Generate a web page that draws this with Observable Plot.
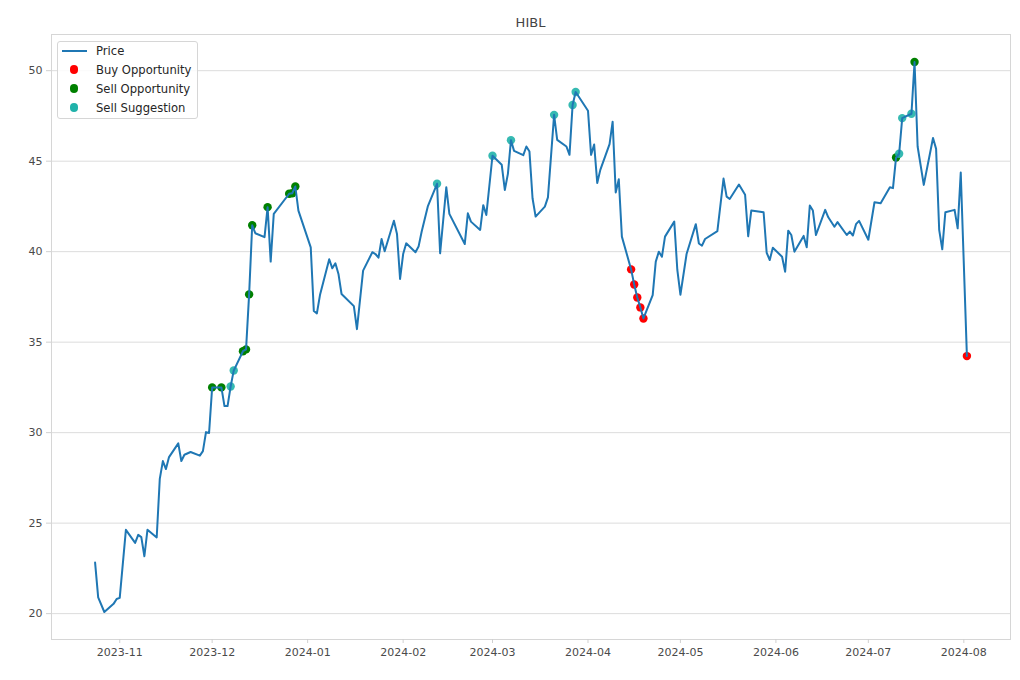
<!DOCTYPE html>
<html>
<head>
<meta charset="utf-8">
<script src="https://cdn.jsdelivr.net/npm/d3@7"></script>
<script src="https://cdn.jsdelivr.net/npm/@observablehq/plot@0.6"></script>
<style>
  body { margin: 0; background: #fff; }
  #wrap { position: relative; width: 1020px; height: 680px; font-family: "DejaVu Sans", sans-serif; }
  #title { position: absolute; left: 51px; width: 959px; top: 14.5px; line-height: 16px; text-align: center; font-size: 13px; color: #444; }
  #legend { position: absolute; left: 57px; top: 40.5px; width: 140.5px; height: 78px; border: 1px solid #d6d6d6; border-radius: 3px; background: rgba(255,255,255,0.85); box-sizing: border-box; font-size: 11.6px; color: #262626; }
  .row { position: absolute; left: 0; height: 16px; line-height: 16px; width: 100%; }
  .lab { position: absolute; left: 38px; top: 0; white-space: nowrap; }
  .sw-line { position: absolute; left: 3.5px; width: 25px; height: 2px; top: 7px; }
  .sw-dot { position: absolute; left: 11.5px; width: 8.4px; height: 8.4px; top: 3.8px; border-radius: 50%; }
</style>
</head>
<body>
<div id="wrap">
  <div id="chart"></div>
  <div id="title">HIBL</div>
  <div id="legend"></div>
</div>
<script>
const dates = [
"2023-10-24","2023-10-25","2023-10-27","2023-10-30","2023-10-31","2023-11-01","2023-11-03","2023-11-06","2023-11-07","2023-11-08",
"2023-11-09","2023-11-10","2023-11-13","2023-11-14","2023-11-15","2023-11-16","2023-11-17","2023-11-20","2023-11-21","2023-11-22",
"2023-11-24","2023-11-27","2023-11-28","2023-11-29","2023-11-30","2023-12-01","2023-12-04","2023-12-05","2023-12-06","2023-12-07",
"2023-12-08","2023-12-11","2023-12-12","2023-12-13","2023-12-14","2023-12-15","2023-12-18","2023-12-19","2023-12-20","2023-12-21",
"2023-12-26","2023-12-27","2023-12-28","2023-12-29","2024-01-02","2024-01-03","2024-01-04","2024-01-05","2024-01-08","2024-01-09",
"2024-01-10","2024-01-11","2024-01-12","2024-01-16","2024-01-17","2024-01-19","2024-01-22","2024-01-23","2024-01-24","2024-01-25",
"2024-01-26","2024-01-29","2024-01-30","2024-01-31","2024-02-01","2024-02-02","2024-02-05","2024-02-06","2024-02-07","2024-02-09",
"2024-02-12","2024-02-13","2024-02-15","2024-02-16","2024-02-21","2024-02-22","2024-02-23","2024-02-26","2024-02-27","2024-02-28",
"2024-03-01","2024-03-04","2024-03-05","2024-03-06","2024-03-07","2024-03-08","2024-03-11","2024-03-12","2024-03-13","2024-03-14",
"2024-03-15","2024-03-18","2024-03-19","2024-03-21","2024-03-22","2024-03-25","2024-03-26","2024-03-27","2024-03-28","2024-04-01",
"2024-04-02","2024-04-03","2024-04-04","2024-04-05","2024-04-08","2024-04-09","2024-04-10","2024-04-11","2024-04-12","2024-04-15",
"2024-04-16","2024-04-17","2024-04-18","2024-04-19","2024-04-22","2024-04-23","2024-04-24","2024-04-25","2024-04-26","2024-04-29",
"2024-04-30","2024-05-01","2024-05-03","2024-05-06","2024-05-07","2024-05-08","2024-05-09","2024-05-13","2024-05-15","2024-05-16",
"2024-05-17","2024-05-20","2024-05-22","2024-05-23","2024-05-24","2024-05-28","2024-05-29","2024-05-30","2024-05-31","2024-06-03",
"2024-06-04","2024-06-05","2024-06-06","2024-06-07","2024-06-10","2024-06-11","2024-06-12","2024-06-13","2024-06-14","2024-06-17",
"2024-06-18","2024-06-20","2024-06-21","2024-06-24","2024-06-25","2024-06-26","2024-06-27","2024-06-28","2024-07-01","2024-07-03",
"2024-07-05","2024-07-08","2024-07-09","2024-07-10","2024-07-11","2024-07-12","2024-07-15","2024-07-16","2024-07-17","2024-07-19",
"2024-07-22","2024-07-23","2024-07-24","2024-07-25","2024-07-26","2024-07-29","2024-07-30","2024-07-31","2024-08-02"
];
const prices = [
22.82,20.90,20.09,20.54,20.81,20.87,24.63,23.91,24.35,24.23,
23.17,24.63,24.21,27.45,28.43,27.99,28.65,29.41,28.43,28.78,
28.93,28.73,28.98,30.03,29.98,32.50,32.50,31.47,31.47,32.55,
33.43,34.50,34.60,37.64,41.46,41.02,40.80,42.46,39.45,42.09,
43.20,43.23,43.60,42.27,40.24,36.72,36.59,37.60,39.58,39.08,
39.36,38.77,37.66,36.99,35.72,38.95,39.97,39.87,39.67,40.70,
40.02,41.71,40.98,38.49,39.87,40.46,39.97,40.28,41.10,42.50,
43.75,39.91,43.56,42.09,40.42,42.12,41.66,41.20,42.57,42.03,
45.30,44.80,43.41,44.30,46.16,45.57,45.33,45.81,45.53,42.95,
41.94,42.49,43.00,47.56,46.18,45.81,45.35,48.10,48.82,47.79,
45.35,45.92,43.80,44.52,45.94,47.18,43.27,44.00,40.83,39.02,
38.19,37.47,36.92,36.31,37.60,39.45,40.00,39.72,40.83,41.66,
38.99,37.62,39.87,41.52,40.45,40.33,40.70,41.13,44.04,43.04,
42.91,43.71,43.14,40.85,42.27,42.18,39.94,39.54,40.22,39.72,
38.89,41.16,40.92,40.00,40.87,40.24,42.55,42.27,40.92,42.31,
41.90,41.38,41.63,40.92,41.11,40.89,41.52,41.70,40.66,42.73,
42.68,43.56,43.51,45.20,45.41,47.38,47.62,50.48,45.81,43.69,
46.28,45.68,41.20,40.13,42.18,42.31,41.29,44.37,34.23
];
const buyDates = ["2024-04-15","2024-04-16","2024-04-17","2024-04-18","2024-04-19","2024-08-02"];
const sellOppDates = ["2023-12-01","2023-12-04","2023-12-11","2023-12-12","2023-12-13","2023-12-14","2023-12-19","2023-12-26","2023-12-27","2023-12-28","2024-07-10","2024-07-16"];
const sellSuggDates = ["2023-12-07","2023-12-08","2024-02-12","2024-03-01","2024-03-07","2024-03-21","2024-03-27","2024-03-28","2024-07-11","2024-07-12","2024-07-15"];
const yTicks = [20, 25, 30, 35, 40, 45, 50];
const xTickLabels = ["2023-11","2023-12","2024-01","2024-02","2024-03","2024-04","2024-05","2024-06","2024-07","2024-08"];
const legendItems = [
  {label: "Price", kind: "line", color: "#1f77b4"},
  {label: "Buy Opportunity", kind: "dot", color: "red"},
  {label: "Sell Opportunity", kind: "dot", color: "green"},
  {label: "Sell Suggestion", kind: "dot", color: "#20b2aa"}
];

const data = dates.map((d, i) => ({date: new Date(d), price: prices[i]}));
const byDate = new Map(dates.map((d, i) => [d, prices[i]]));
const pick = arr => arr.map(d => ({date: new Date(d), price: byDate.get(d)}));
const buy = pick(buyDates), sellOpp = pick(sellOppDates), sellSugg = pick(sellSuggDates);

const xe = d3.extent(data, d => d.date), xs = xe[1] - xe[0];
const ye = d3.extent(prices), ys = ye[1] - ye[0];
const xTicks = xTickLabels.map(s => new Date(s + "-01"));

const chart = Plot.plot({
  width: 1020, height: 680,
  marginTop: 34, marginLeft: 51, marginRight: 10, marginBottom: 41,
  style: {fontFamily: "DejaVu Sans, sans-serif", fontSize: "11px", background: "white", overflow: "visible"},
  x: {type: "utc", domain: [new Date(+xe[0] - 0.05 * xs), new Date(+xe[1] + 0.05 * xs)]},
  y: {domain: [ye[0] - 0.05 * ys, ye[1] + 0.05 * ys]},
  marks: [
    Plot.gridY(yTicks, {stroke: "#dcdcdc", strokeOpacity: 1, strokeWidth: 1}),
    Plot.frame({stroke: "#d6d6d6"}),
    Plot.axisY(yTicks, {tickSize: 5, tickPadding: 4, stroke: "#d0d0d0", fill: "#4a4a4a", label: null}),
    Plot.axisX(xTicks, {tickSize: 4, tickPadding: 5, stroke: "#d0d0d0", fill: "#4a4a4a", label: null, tickFormat: d3.utcFormat("%Y-%m")}),
    Plot.dot(buy, {x: "date", y: "price", r: 4.2, fill: "red"}),
    Plot.dot(sellOpp, {x: "date", y: "price", r: 4.2, fill: "green"}),
    Plot.dot(sellSugg, {x: "date", y: "price", r: 4.2, fill: "#20b2aa", fillOpacity: 0.9}),
    Plot.line(data, {x: "date", y: "price", stroke: "#1f77b4", strokeWidth: 2})
  ]
});
document.getElementById("chart").appendChild(chart);

const leg = document.getElementById("legend");
legendItems.forEach((it, i) => {
  const row = document.createElement("div");
  row.className = "row";
  row.style.top = (1.3 + 18.9 * i) + "px";
  const sw = document.createElement("div");
  sw.className = it.kind === "line" ? "sw-line" : "sw-dot";
  sw.style.background = it.color;
  row.appendChild(sw);
  const lab = document.createElement("div");
  lab.className = "lab";
  lab.textContent = it.label;
  row.appendChild(lab);
  leg.appendChild(row);
});
</script>
</body>
</html>
